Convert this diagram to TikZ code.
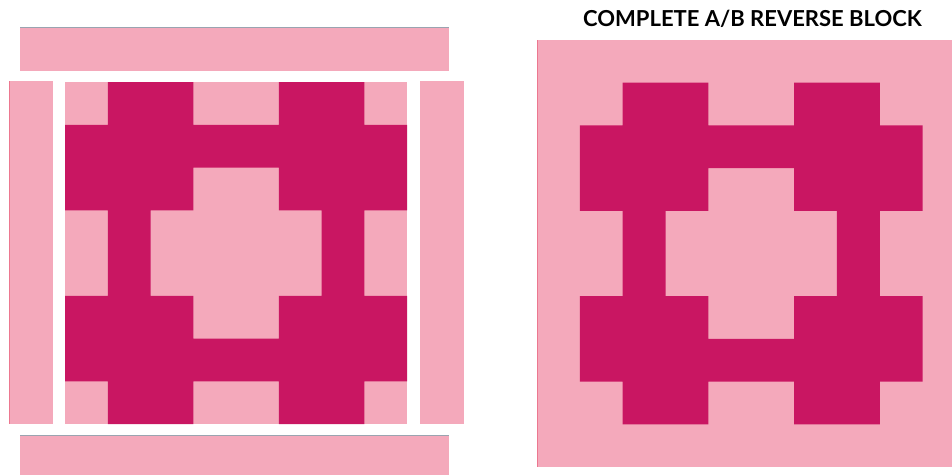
\documentclass[tikz,border=0pt]{standalone}
\usepackage{fontspec}
\newfontfamily\titlefont{Lato}
\definecolor{lightpink}{HTML}{F4A9BB}
\definecolor{darkpink}{HTML}{C91662}
\definecolor{edgegray}{HTML}{9AA4B0}
\definecolor{edgered}{HTML}{EC7890}
\newcommand{\quiltpattern}{%
  \fill[darkfill]
    (1,0) rectangle (3,3) (5,0) rectangle (7,3)
    (0,1) rectangle (8,2) (0,2) rectangle (3,3) (5,2) rectangle (8,3)
    (1,3) rectangle (2,5) (6,3) rectangle (7,5)
    (1,5) rectangle (3,8) (5,5) rectangle (7,8)
    (0,6) rectangle (8,7) (0,5) rectangle (3,6) (5,5) rectangle (8,6);}
\begin{document}
\begin{tikzpicture}[x=1pt,y=-1pt,
  lightfill/.style={fill=lightpink},
  darkfill/.style={fill=darkpink},
  titletext/.style={font=\titlefont\bfseries\fontsize{22}{24}\selectfont, text=black, inner sep=0pt}]
\useasboundingbox (0,0) rectangle (952,475);
% strips around the left block
\fill[lightfill] (20,27) rectangle (449,71);
\draw[edgegray, line width=0.9pt] (20,27.45) -- (449,27.45);
\fill[lightfill] (9,81) rectangle (53,424);
\draw[edgered, line width=1pt] (9.5,81) -- (9.5,424);
\fill[lightfill] (420,81) rectangle (464,424);
\fill[lightfill] (20,435) rectangle (449,475);
\draw[edgegray, line width=0.9pt] (20,435.45) -- (449,435.45);
% left block
\begin{scope}[shift={(65,82)}, x=42.75pt, y=-42.75pt]
  \fill[lightfill] (0,0) rectangle (8,8);
  \quiltpattern
\end{scope}
% complete block
\begin{scope}[shift={(537,40)}, x=42.85pt, y=-42.7pt]
  \fill[lightfill] (0,0) rectangle (10,10);
  \draw[edgered, line width=1pt] (0.012,0) -- (0.012,10);
  \begin{scope}[shift={(1,1)}]
    \quiltpattern
  \end{scope}
\end{scope}
\node[titletext, anchor=base] (title) at (752.5,26) {COMPLETE A/B REVERSE BLOCK};
\end{tikzpicture}
\end{document}
